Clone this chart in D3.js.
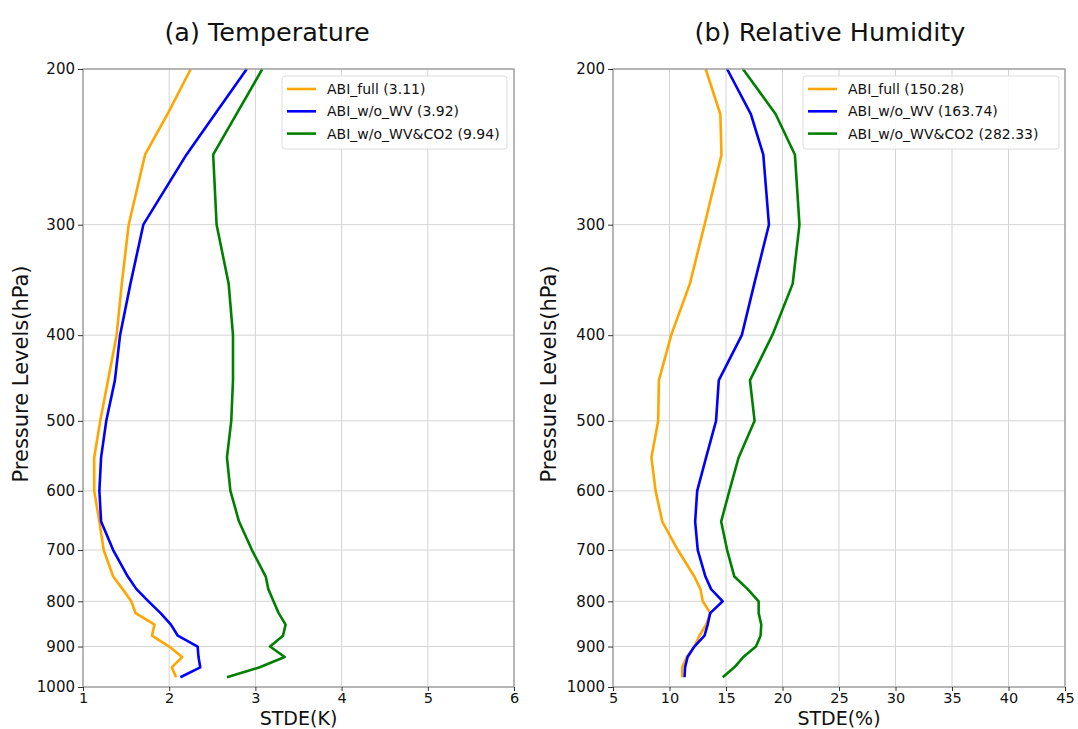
<!DOCTYPE html>
<html>
<head>
<meta charset="utf-8">
<script src="https://cdn.jsdelivr.net/npm/d3@7"></script>
<style>
  body { margin: 0; background: #fff; }
  svg { font-family: "DejaVu Sans", sans-serif; }
</style>
</head>
<body>
<div id="chart"></div>
<script>
// pressure levels (hPa)
const levels = [200, 225, 250, 300, 350, 400, 450, 500, 550, 600, 650, 700, 750, 775, 800, 825, 850, 875, 900, 925, 950, 975];
const yTicks = [200, 300, 400, 500, 600, 700, 800, 900, 1000];

// temperature STDE (K)
const tFull   = [2.25, 1.98, 1.72, 1.53, 1.45, 1.39, 1.29, 1.20, 1.13, 1.13, 1.19, 1.24, 1.35, 1.46, 1.56, 1.61, 1.83, 1.80, 2.00, 2.15, 2.03, 2.08];
const tNoWv   = [2.90, 2.53, 2.20, 1.70, 1.55, 1.43, 1.37, 1.27, 1.21, 1.19, 1.21, 1.35, 1.52, 1.62, 1.76, 1.90, 2.02, 2.10, 2.33, 2.34, 2.36, 2.13];
const tNoWvCo2 = [3.08, 2.78, 2.51, 2.55, 2.69, 2.74, 2.74, 2.72, 2.67, 2.71, 2.81, 2.96, 3.12, 3.15, 3.21, 3.27, 3.35, 3.32, 3.17, 3.34, 3.05, 2.67];
const tLabels = ["ABI_full (3.11)", "ABI_w/o_WV (3.92)", "ABI_w/o_WV&CO2 (9.94)"];
const tXTicks = [1, 2, 3, 4, 5, 6];

// relative humidity STDE (%)
const rFull   = [13.2, 14.5, 14.6, 13.1, 11.8, 10.15, 9.06, 9.0, 8.4, 8.77, 9.36, 10.74, 12.2, 12.74, 12.94, 13.62, 13.24, 12.65, 12.2, 11.53, 11.12, 11.12];
const rNoWv   = [15.1, 17.2, 18.3, 18.8, 17.5, 16.4, 14.36, 14.12, 13.24, 12.45, 12.27, 12.5, 13.18, 13.68, 14.71, 13.6, 13.38, 13.1, 12.2, 11.6, 11.38, 11.33];
const rNoWvCo2 = [16.5, 19.4, 21.1, 21.5, 20.9, 19.1, 17.12, 17.53, 16.12, 15.3, 14.57, 15.1, 15.74, 16.92, 17.89, 17.89, 18.12, 18.06, 17.65, 16.53, 15.74, 14.71];
const rLabels = ["ABI_full (150.28)", "ABI_w/o_WV (163.74)", "ABI_w/o_WV&CO2 (282.33)"];
const rXTicks = [5, 10, 15, 20, 25, 30, 35, 40, 45];

const colors = ["orange", "blue", "green"];

const svg = d3.select("#chart")
    .append("svg")
    .attr("width", 1078)
    .attr("height", 729);

function drawPanel({ left, right, xDomain, xTicks, series, labels, title, titleX, xLabel, yLabelX, legendX, legendW }) {
    const top = 69, bottom = 687;

    const x = d3.scaleLinear().domain(xDomain).range([left, right]);
    const y = d3.scaleLog().domain([200, 1000]).range([top, bottom]);

    const g = svg.append("g");

    // grid
    g.append("g").selectAll("line")
        .data(xTicks)
        .join("line")
        .attr("x1", d => x(d)).attr("x2", d => x(d))
        .attr("y1", top).attr("y2", bottom)
        .attr("stroke", "#d4d4d4").attr("stroke-width", 1);
    g.append("g").selectAll("line")
        .data(yTicks)
        .join("line")
        .attr("x1", left).attr("x2", right)
        .attr("y1", d => y(d)).attr("y2", d => y(d))
        .attr("stroke", "#d4d4d4").attr("stroke-width", 1);

    // lines
    const line = d3.line()
        .x(d => x(d[1]))
        .y(d => y(d[0]));
    series.forEach((vals, i) => {
        g.append("path")
            .datum(levels.map((p, j) => [p, vals[j]]))
            .attr("fill", "none")
            .attr("stroke", colors[i])
            .attr("stroke-width", 2.6)
            .attr("stroke-linejoin", "round")
            .attr("d", line);
    });

    // frame
    g.append("rect")
        .attr("x", left).attr("y", top)
        .attr("width", right - left).attr("height", bottom - top)
        .attr("fill", "none").attr("stroke", "#9a9a9a").attr("stroke-width", 1.3);

    // axes
    const xAxis = g.append("g")
        .attr("transform", "translate(0," + bottom + ")")
        .call(d3.axisBottom(x).tickValues(xTicks).tickSize(4).tickPadding(2).tickFormat(d3.format("d")));
    const yAxis = g.append("g")
        .attr("transform", "translate(" + left + ",0)")
        .call(d3.axisLeft(y).tickValues(yTicks).tickSize(5).tickPadding(3).tickFormat(d3.format("d")));
    [xAxis, yAxis].forEach(a => {
        a.select(".domain").remove();
        a.selectAll(".tick line").attr("stroke", "#333").attr("stroke-width", 1);
        a.selectAll("text").attr("fill", "#111").style("font-size", "15px").style("font-family", "DejaVu Sans");
    });
    xAxis.selectAll("text").style("font-size", "14.5px");

    // title and labels
    g.append("text")
        .attr("x", titleX).attr("y", 41)
        .attr("text-anchor", "middle")
        .style("font-size", "25.5px")
        .attr("fill", "#111")
        .text(title);
    g.append("text")
        .attr("x", (left + right) / 2).attr("y", 724.5)
        .attr("text-anchor", "middle")
        .style("font-size", "19px")
        .attr("fill", "#111")
        .text(xLabel);
    g.append("text")
        .attr("transform", "translate(" + yLabelX + "," + 374 + ") rotate(-90)")
        .attr("text-anchor", "middle")
        .style("font-size", "21px")
        .attr("fill", "#111")
        .text("Pressure Levels(hPa)");

    // legend
    const lg = g.append("g").attr("transform", "translate(" + legendX + ",76)");
    lg.append("rect")
        .attr("width", legendW).attr("height", 73)
        .attr("rx", 3)
        .attr("fill", "#fff").attr("fill-opacity", 0.85)
        .attr("stroke", "#dcdcdc");
    labels.forEach((t, i) => {
        const yy = 13 + i * 22.3;
        lg.append("line")
            .attr("x1", 5).attr("x2", 34)
            .attr("y1", yy).attr("y2", yy)
            .attr("stroke", colors[i]).attr("stroke-width", 2.6);
        lg.append("text")
            .attr("x", 45).attr("y", yy + 5)
            .style("font-size", "14px")
            .attr("fill", "#111")
            .text(t);
    });
}

drawPanel({
    left: 83, right: 514, xDomain: [1, 6], xTicks: tXTicks,
    series: [tFull, tNoWv, tNoWvCo2], labels: tLabels,
    title: "(a) Temperature", titleX: 267, xLabel: "STDE(K)",
    yLabelX: 28, legendX: 282, legendW: 225
});

drawPanel({
    left: 613, right: 1065, xDomain: [5, 45], xTicks: rXTicks,
    series: [rFull, rNoWv, rNoWvCo2], labels: rLabels,
    title: "(b) Relative Humidity", titleX: 830, xLabel: "STDE(%)",
    yLabelX: 556, legendX: 803, legendW: 256
});
</script>
</body>
</html>
